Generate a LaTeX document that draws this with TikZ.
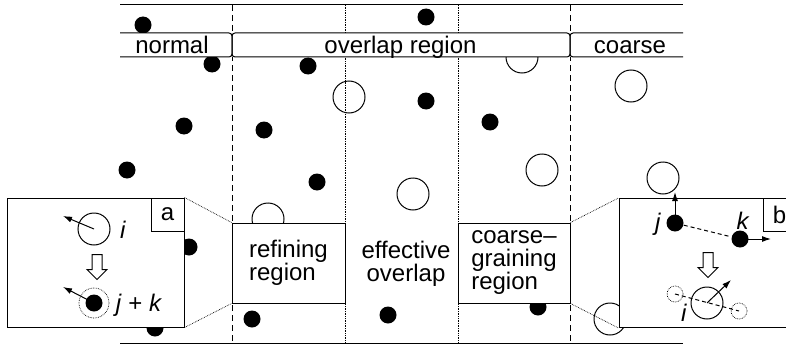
\documentclass[tikz,border=0pt]{standalone}
\usepackage{fontspec}
\setmainfont{Liberation Sans}
\usetikzlibrary{arrows.meta,shapes.arrows}

\tikzset{
  atom/.style={circle,fill=black,inner sep=0pt,minimum size=17pt},
  blob/.style={circle,draw,inner sep=0pt,minimum size=32pt},
  ghost/.style={circle,draw,densely dotted,line width=0.7pt,inner sep=0pt,minimum size=16pt},
  region/.style={draw,fill=white,inner sep=0pt,align=left,minimum width=113pt,minimum height=80pt},
  inset/.style={draw,fill=white,minimum width=177pt,minimum height=129pt},
  tag/.style={draw,fill=white,inner sep=0pt,minimum width=33pt,minimum height=33pt},
  zoomline/.style={densely dotted,line width=0.7pt},
  vel/.style={-{Latex[length=9pt,width=6pt]}},
  bond/.style={dash pattern=on 4pt off 3pt},
  turn/.style={single arrow,draw,fill=white,shape border rotate=270,inner sep=4.5pt,
    single arrow head extend=5pt,minimum height=25pt},
}

\begin{document}
\begin{tikzpicture}[x=1pt,y=-1pt,line width=1pt,
    every node/.append style={font=\fontsize{24}{23}\selectfont}]
  \useasboundingbox (0,0) rectangle (786,345);
  \clip (0,0) rectangle (786,345);
  % frame of the strip
  \draw (120,5) -- (683,5);
  \draw (120,343) -- (683,343);
  \draw[dash pattern=on 6pt off 4pt] (232,5) -- (232,343) (570,5) -- (570,343);
  \draw[zoomline] (345,5) -- (345,343) (458,5) -- (458,343);
  % particles
  \foreach \x/\y [count=\n] in {143/25, 212/64, 308/66, 426/17, 426/101, 490/122,
      184/126, 127/170, 264/130, 317/182, 252/319, 388/315, 538/307, 189/247, 155/328}
    \node[atom] (p\n) at (\x,\y) {};
  \foreach \x/\y [count=\n] in {349/97, 522/57, 631/86, 542/170, 413/194, 268/219,
      663/178, 610/319}
    \node[blob] (c\n) at (\x,\y) {};
  % header band
  \fill[white] (120,33) rectangle (683,57);
  \draw[rounded corners=3pt] (120,33) -- (232,33) -- (232,57) -- (120,57);
  \draw[rounded corners=3pt] (232,33) rectangle (570,57);
  \draw[rounded corners=3pt] (683,33) -- (570,33) -- (570,57) -- (683,57);
  \node[anchor=base] (normal) at (172,53) {normal};
  \node[anchor=base] (overlap) at (400.5,53) {overlap region};
  \node[anchor=base] (coarse) at (630,53) {coarse};
  % regions
  \node[region] (refine) at (288.5,263) {refining\\region};
  \node[region,minimum width=112pt] (coarsen) at (514,263) {coarse--\\graining\\region};
  \node[align=center] (effective) at (406,264) {effective\\overlap};
  % insets
  \node[inset] (insetA) at (95.5,262.5) {};
  \node[tag,anchor=north east] (tagA) at (insetA.north east) {a};
  \node[inset] (insetB) at (707.5,263) {};
  \node[tag,anchor=north east] (tagB) at (insetB.north east) {b};
  \draw[zoomline] (insetA.north east) -- (refine.north west);
  \draw[zoomline] (insetA.south east) -- (refine.south west);
  \draw[zoomline] (coarsen.north east) -- (insetB.north west);
  \draw[zoomline] (coarsen.south east) -- (insetB.south west);
  % inset a: refining
  \node[blob] (iA) at (94,229) {};
  \node (labiA) at (123,230) {\textit{i}};
  \coordinate (viA) at (63,216);
  \draw[vel] (iA.center) -- (viA);
  \node[turn] (turnA) at (97,264.5) {};
  \node[atom] (jkA) at (94,303) {};
  \node[ghost,minimum size=30pt] (ringA) at (jkA) {};
  \coordinate (vjkA) at (63,287);
  \draw[vel] (jkA.center) -- (vjkA);
  \node[anchor=west] (labjkA) at (112,305) {\textit{j} + \textit{k}};
  % inset b: coarse-graining
  \node[atom] (jB) at (675,223) {};
  \node[atom] (kB) at (740,239) {};
  \node (labjB) at (658,224) {\textit{j}};
  \node (labkB) at (743,221) {\textit{k}};
  \draw[bond] (jB) -- (kB);
  \coordinate (vjB) at (675,192);
  \coordinate (vkB) at (771,239);
  \draw[vel] (jB.center) -- (vjB);
  \draw[vel] (kB.center) -- (vkB);
  \node[turn] (turnB) at (708,262.5) {};
  \node[ghost] (gjB) at (675,294) {};
  \node[ghost] (gkB) at (739,311) {};
  \node[blob] (iB) at (707,303) {};
  \draw[bond] (gjB.center) -- (gkB.center);
  \coordinate (viB) at (731,280);
  \draw[vel] (iB.center) -- (viB);
  \node (labiB) at (684,313) {\textit{i}};
\end{tikzpicture}
\end{document}
